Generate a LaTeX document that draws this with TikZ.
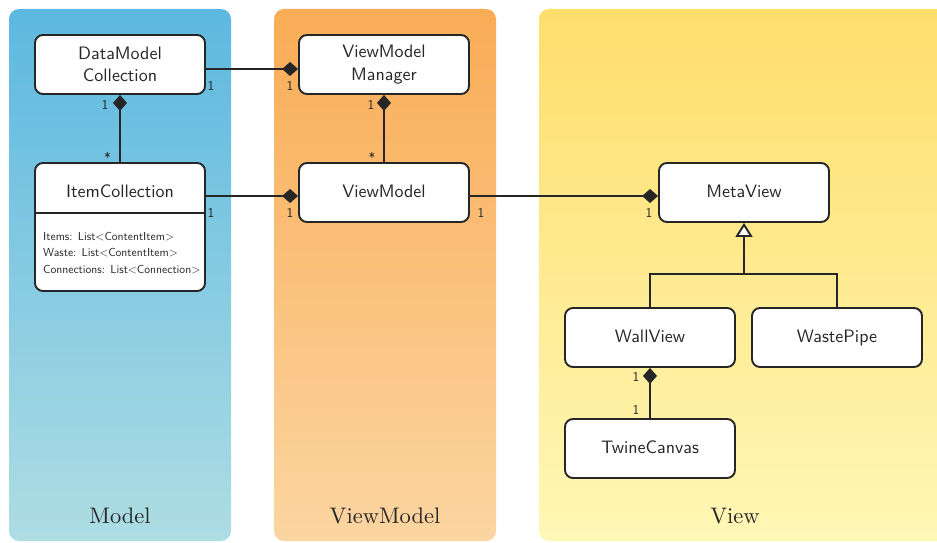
\documentclass[tikz,border=0pt]{standalone}
\usepackage{fontspec}
\newfontfamily\classfont{lmsans10-regular.otf}
\newfontfamily\layerfont{lmroman10-regular.otf}
\usetikzlibrary{arrows.meta}
\definecolor{ink}{HTML}{262626}
\definecolor{modeltop}{HTML}{5CB8E0}
\definecolor{modelbot}{HTML}{AEDDE3}
\definecolor{vmtop}{HTML}{F9AC56}
\definecolor{vmbot}{HTML}{FCD5A1}
\definecolor{viewtop}{HTML}{FFDE6C}
\definecolor{viewbot}{HTML}{FFF7B6}
\begin{document}
\begin{tikzpicture}[x=1pt,y=-1pt,
  cls/.style={draw=ink, line width=1.9pt, fill=white, rounded corners=8pt,
    minimum width=170pt, minimum height=59pt, inner sep=0pt, align=center,
    text=ink, font=\classfont\fontsize{18}{22.5}\selectfont},
  single/.style={text height=13.5pt, text depth=4pt},
  mult/.style={anchor=base, inner sep=0pt, text=ink,
    font=\classfont\fontsize{13.5}{16}\selectfont},
  attr/.style={anchor=base west, inner sep=0pt, text=ink,
    font=\classfont\fontsize{11.6}{14}\selectfont},
  link/.style={draw=ink, line width=1.9pt},
  comp/.style={link, -{Diamond[length=16pt,width=14pt]}},
  gen/.style={link, -{Triangle[length=14pt,width=17pt,fill=white]}},
  panel/.style={rounded corners=10pt},
  layer/.style={anchor=base, inner sep=0pt, text=ink, font=\layerfont\fontsize{22.5}{26}\selectfont}
]
\useasboundingbox (0,0) rectangle (937,543);
\clip (0,0) rectangle (937,543);

% layer backgrounds
\shade[panel, top color=modeltop, bottom color=modelbot] (9,9) rectangle (231,541);
\shade[panel, top color=vmtop, bottom color=vmbot] (274,9) rectangle (496,541);
\shade[panel, top color=viewtop, bottom color=viewbot] (539,9) rectangle (955,541);

\node[layer] (tmodel) at (120,523) {Model};
\node[layer] (tvm) at (385,523) {ViewModel};
\node[layer] (tview) at (735,523) {View};

% classes
\node[cls] (dmc) at (120,64.5) {DataModel\\Collection};
\node[cls] (vmm) at (384,64.5) {ViewModel\\Manager};
\node[cls, single] (vm) at (384,192.5) {ViewModel};
\node[cls, single] (mv) at (744,192.5) {MetaView};
\node[cls, single] (wv) at (650,337.5) {WallView};
\node[cls, single] (wp) at (837,337.5) {WastePipe};
\node[cls, single] (tc) at (650,448.5) {TwineCanvas};

% class with attribute compartment
\node[cls, minimum height=128pt] (ic) at (120,227) {};
\node[anchor=base, inner sep=0pt, text=ink, font=\classfont\fontsize{18}{22.5}\selectfont]
  (ictitle) at (120,197.3) {ItemCollection};
\coordinate (icsep) at (0,213);
\draw[link] (ic.west |- icsep) -- (ic.east |- icsep);
\node[attr] (a1) at (43,240) {Items: List<ContentItem>};
\node[attr] (a2) at (43,256.6) {Waste: List<ContentItem>};
\node[attr] (a3) at (43,273.2) {Connections: List<Connection>};

% ports where horizontal links meet the boxes
\coordinate (vmmport) at ([yshift=-4.5pt]vmm.west);
\coordinate (vmport) at ([yshift=-3.5pt]vm.west);
\coordinate (vmout) at ([yshift=-3.5pt]vm.east);
\coordinate (mvport) at ([yshift=-3.5pt]mv.west);

% compositions
\draw[comp] (dmc.east |- vmmport) -- (vmmport);
\draw[comp] (ic.east |- vmport) -- (vmport);
\draw[comp] (ic.north) -- (dmc.south);
\draw[comp] (vm.north) -- (vmm.south);
\draw[comp] (vmout) -- (mvport);
\draw[comp] (tc.north) -- (wv.south);

% generalisation
\coordinate (forky) at (0,274);
\coordinate (fork) at (mv.south |- forky);
\draw[link] (wv.north) |- (fork) -| (wp.north);
\draw[gen] (fork) -- (mv.south);

% multiplicities
\node[mult] (m1) at (211,91) {1};
\node[mult] (m2) at (290,91) {1};
\node[mult] (m3) at (211,217.5) {1};
\node[mult] (m4) at (290,217.5) {1};
\node[mult] (m5) at (105,109) {1};
\node[mult] (m6) at (107.5,162.2) {*};
\node[mult] (m7) at (371,109) {1};
\node[mult] (m8) at (372,162.2) {*};
\node[mult] (m9) at (481,217.5) {1};
\node[mult] (m10) at (649,217.5) {1};
\node[mult] (m11) at (636,381) {1};
\node[mult] (m12) at (636,414.3) {1};
\end{tikzpicture}
\end{document}
